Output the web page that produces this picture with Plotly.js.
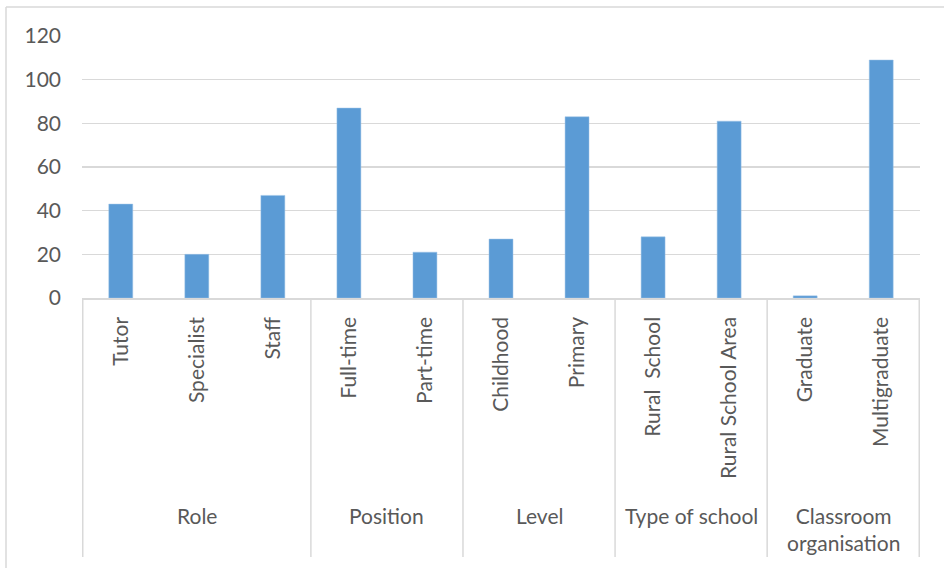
<!DOCTYPE html>
<html>
<head>
<meta charset="utf-8">
<script src="https://cdn.plot.ly/plotly-3.0.1.min.js"></script>
<style>html,body{margin:0;padding:0;background:#fff;}#chart{width:944px;height:568px;}</style>
</head>
<body>
<div id="chart"></div>
<script>
// ---- data ----
const groups = ['Role', 'Position', 'Level', 'Type of school', 'Classroom<br>organisation'];
const groupSizes = [3, 2, 2, 2, 2];
const categories = ['Tutor', 'Specialist', 'Staff', 'Full-time', 'Part-time', 'Childhood', 'Primary',
                    'Rural\u00a0\u00a0School', 'Rural School Area', 'Graduate', 'Multigraduate'];
const values = [43, 20, 47, 87, 21, 27, 83, 28, 81, 1, 109];
const yTicks = [0, 20, 40, 60, 80, 100, 120];

// ---- layout helpers ----
const W = 944, H = 568;
const mL = 82, mR = 24, mT = 36, mB = 270;
const plotH = H - mT - mB;
const pxToPaperY = py => (H - mB - py) / plotH;
const pxToPaperX = px => (px - mL) / (W - mL - mR);

const textColor = '#595959';
const gridColor = '#d9d9d9';
const fontFam = 'Lato, "Open Sans", sans-serif';
const fs = 21;

const shapes = [];
const annotations = [];
let start = 0;
const bounds = [-0.5];
groups.forEach((g, i) => {
  const n = groupSizes[i];
  const center = start + (n - 1) / 2;
  annotations.push({
    x: center, xref: 'x', y: pxToPaperY(501), yref: 'paper',
    yanchor: 'top', xanchor: 'center', showarrow: false, text: g,
    font: {family: fontFam, size: fs, color: textColor}
  });
  start += n;
  bounds.push(start - 0.5);
});
bounds.forEach(b => {
  shapes.push({type: 'line', xref: 'x', yref: 'paper', x0: b, x1: b,
    y0: 0, y1: pxToPaperY(557), line: {color: gridColor, width: 1.5}});
});
// outer chart frame (top and left edges visible)
shapes.push({type: 'line', xref: 'paper', yref: 'paper',
  x0: pxToPaperX(6), x1: pxToPaperX(950), y0: pxToPaperY(7), y1: pxToPaperY(7),
  line: {color: gridColor, width: 1.5}});
shapes.push({type: 'line', xref: 'paper', yref: 'paper',
  x0: pxToPaperX(6), x1: pxToPaperX(6), y0: pxToPaperY(7), y1: pxToPaperY(575),
  line: {color: gridColor, width: 1.5}});

const trace = {
  type: 'bar', x: categories, y: values,
  marker: {color: '#5b9bd5', line: {color: '#9dc3e6', width: 0.5}},
  hoverinfo: 'x+y'
};

const layout = {
  width: W, height: H,
  margin: {l: mL, r: mR, t: mT, b: mB},
  paper_bgcolor: '#ffffff', plot_bgcolor: '#ffffff',
  showlegend: false,
  bargap: 0.685,
  font: {family: fontFam, size: fs, color: textColor},
  xaxis: {
    type: 'category', tickangle: -90, showgrid: false,
    showline: true, linecolor: gridColor, linewidth: 1.5,
    ticks: '', ticklabelstandoff: 9,
    tickfont: {family: fontFam, size: fs, color: textColor},
    fixedrange: true, automargin: false
  },
  yaxis: {
    range: [0, 120], tickvals: yTicks, ticktext: yTicks.map(String),
    showgrid: true, gridcolor: gridColor, gridwidth: 1.5,
    zeroline: false, showline: false, ticks: '', ticklabelstandoff: 20,
    tickfont: {family: fontFam, size: fs, color: textColor},
    fixedrange: true, automargin: false
  },
  shapes: shapes,
  annotations: annotations
};

Plotly.newPlot('chart', [trace], layout, {displayModeBar: false, staticPlot: true});
</script>
</body>
</html>
